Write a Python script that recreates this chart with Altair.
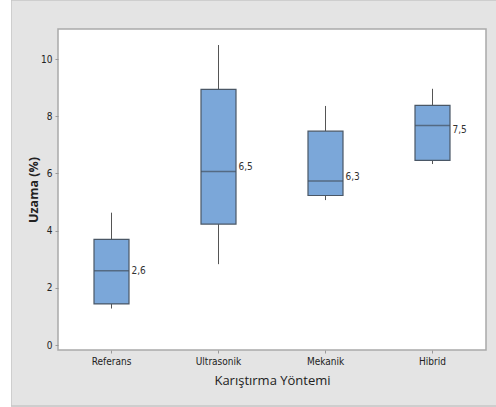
import altair as alt
import pandas as pd

methods = ["Referans", "Ultrasonik", "Mekanik", "Hibrid"]
whisker_low = [1.28, 2.83, 5.07, 6.33]
q1 = [1.44, 4.23, 5.23, 6.46]
median = [2.60, 6.07, 5.74, 7.68]
q3 = [3.70, 8.94, 7.48, 8.38]
whisker_high = [4.63, 10.49, 8.36, 8.96]
label_text = ["2,6", "6,5", "6,3", "7,5"]
label_at = [2.60, 6.23, 5.88, 7.52]
y_ticks = [0, 2, 4, 6, 8, 10]

df = pd.DataFrame({
    "method": methods, "lo": whisker_low, "q1": q1, "med": median,
    "q3": q3, "hi": whisker_high, "lab": label_text, "lab_y": label_at,
})

FONT = "Liberation Sans Narrow, DejaVu Sans Condensed, Open Sans, sans-serif"
W, H = 428, 321

xenc = alt.X("method:N", sort=methods,
             scale=alt.Scale(type="band", paddingInner=0, paddingOuter=0),
             axis=alt.Axis(title="Karıştırma Yöntemi", labelAngle=0, domain=False,
                           tickSize=3, tickColor="#999999", labelPadding=3,
                           labelFont=FONT, labelFontSize=10, labelColor="#222222",
                           titleFont="Open Sans", titleFontSize=13, titleFontWeight="normal",
                           titleColor="#222222", titlePadding=8))
yscale = alt.Scale(domain=[-0.17, 11.05], nice=False, zero=False)
yaxis = alt.Axis(title="Uzama (%)", values=y_ticks, domain=False, grid=False,
                 tickSize=3, tickColor="#999999", labelPadding=3,
                 labelFont=FONT, labelFontSize=10, labelColor="#222222",
                 titleFont="Open Sans", titleFontSize=12.5, titleFontWeight="bold",
                 titleColor="#222222", titleX=-18, titleY=H / 2)

one = pd.DataFrame({"k": [0]})
left_strip = alt.Chart(one).mark_rect(color="white").encode(
    x=alt.value(-58), x2=alt.value(-47), y=alt.value(-29), y2=alt.value(380))
outer_border = alt.Chart(one).mark_rect(fill=None, stroke="#c6c6c6", strokeWidth=1.5).encode(
    x=alt.value(-47), x2=alt.value(445), y=alt.value(-29), y2=alt.value(377))

base = alt.Chart(df)
whisk_lo = base.mark_rule(color="#555555", strokeWidth=1).encode(
    x=xenc, y=alt.Y("lo:Q", scale=yscale, axis=yaxis), y2="q1:Q")
whisk_hi = base.mark_rule(color="#555555", strokeWidth=1).encode(
    x=xenc, y=alt.Y("q3:Q", scale=yscale, axis=yaxis), y2="hi:Q")
box = base.mark_bar(size=35, fill="#7ba7d9", stroke="#4a5766", strokeWidth=1.2).encode(
    x=xenc, y=alt.Y("q1:Q", scale=yscale, axis=yaxis), y2="q3:Q")
med = base.mark_tick(size=35, thickness=1.5, color="#44505e").encode(
    x=xenc, y=alt.Y("med:Q", scale=yscale, axis=yaxis))
labels = base.mark_text(align="left", baseline="middle", dx=20, fontSize=10,
                        font=FONT, color="#333333").encode(
    x=xenc, y=alt.Y("lab_y:Q", scale=yscale, axis=yaxis), text="lab:N")

chart = alt.layer(outer_border, left_strip, whisk_lo, whisk_hi, box, med, labels).properties(
    width=W, height=H,
    background="#e4e4e4",
    padding={"left": 58, "top": 29, "right": 10, "bottom": 57},
    autosize=alt.AutoSizeParams(type="none"),
).configure_view(fill="white", stroke="#a9a9a9", strokeWidth=1.5)

chart.save("out.html", embed_options={"renderer": "svg", "actions": False})
